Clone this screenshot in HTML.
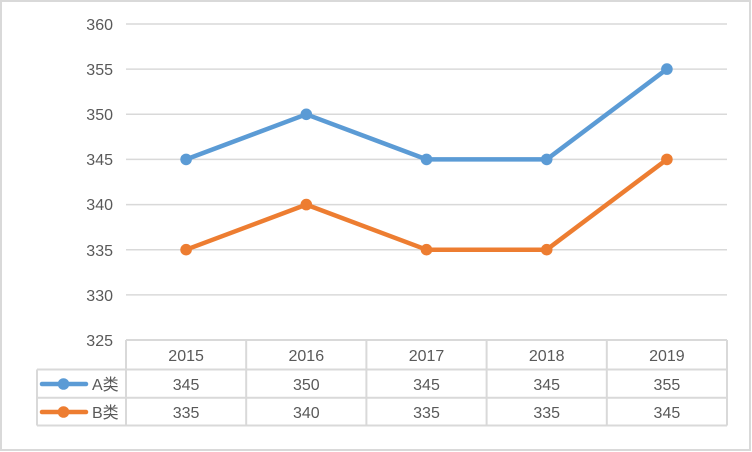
<!DOCTYPE html>
<html><head><meta charset="utf-8"><style>
html,body{margin:0;padding:0;background:#fff;}
svg{display:block;}
text{font-family:"Liberation Sans","Noto Sans CJK SC",sans-serif;font-size:16px;fill:#595959;}
</style></head><body>
<svg width="752" height="452" viewBox="0 0 752 452" xmlns="http://www.w3.org/2000/svg">
<rect x="1" y="1" width="749" height="449" fill="#fff" stroke="#d9d9d9" stroke-width="2"/>
<g stroke="#d9d9d9" stroke-width="1.5">
<line x1="126" y1="24" x2="727" y2="24"/>
<line x1="126" y1="69.1" x2="727" y2="69.1"/>
<line x1="126" y1="114.3" x2="727" y2="114.3"/>
<line x1="126" y1="159.4" x2="727" y2="159.4"/>
<line x1="126" y1="204.6" x2="727" y2="204.6"/>
<line x1="126" y1="249.7" x2="727" y2="249.7"/>
<line x1="126" y1="294.9" x2="727" y2="294.9"/>
</g>
<g stroke="#d9d9d9" stroke-width="2" fill="none">
<line x1="126" y1="340" x2="727" y2="340"/>
<line x1="37" y1="369.5" x2="727" y2="369.5"/>
<line x1="37" y1="397.7" x2="727" y2="397.7"/>
<line x1="37" y1="425.5" x2="727" y2="425.5"/>
<line x1="37" y1="369.5" x2="37" y2="425.5"/>
<line x1="126" y1="340" x2="126" y2="425.5"/>
<line x1="246.2" y1="340" x2="246.2" y2="425.5"/>
<line x1="366.4" y1="340" x2="366.4" y2="425.5"/>
<line x1="486.6" y1="340" x2="486.6" y2="425.5"/>
<line x1="606.8" y1="340" x2="606.8" y2="425.5"/>
<line x1="727" y1="340" x2="727" y2="425.5"/>
</g>
<g text-anchor="end">
<text x="113" y="30">360</text>
<text x="113" y="75">355</text>
<text x="113" y="120">350</text>
<text x="113" y="165">345</text>
<text x="113" y="210">340</text>
<text x="113" y="256">335</text>
<text x="113" y="301">330</text>
<text x="113" y="346">325</text>
</g>
<g text-anchor="middle">
<text x="186.1" y="361">2015</text>
<text x="306.3" y="361">2016</text>
<text x="426.5" y="361">2017</text>
<text x="546.7" y="361">2018</text>
<text x="666.9" y="361">2019</text>
<text x="186.1" y="390">345</text>
<text x="306.3" y="390">350</text>
<text x="426.5" y="390">345</text>
<text x="546.7" y="390">345</text>
<text x="666.9" y="390">355</text>
<text x="186.1" y="418">335</text>
<text x="306.3" y="418">340</text>
<text x="426.5" y="418">335</text>
<text x="546.7" y="418">335</text>
<text x="666.9" y="418">345</text>
</g>
<polyline points="186.1,159.4 306.3,114.3 426.5,159.4 546.7,159.4 666.9,69.1" fill="none" stroke="#5b9bd5" stroke-width="4.5" stroke-linejoin="round" stroke-linecap="round"/>
<polyline points="186.1,249.7 306.3,204.6 426.5,249.7 546.7,249.7 666.9,159.4" fill="none" stroke="#ed7d31" stroke-width="4.5" stroke-linejoin="round" stroke-linecap="round"/>
<g fill="#5b9bd5">
<circle cx="186.1" cy="159.4" r="5.8"/><circle cx="306.3" cy="114.3" r="5.8"/><circle cx="426.5" cy="159.4" r="5.8"/><circle cx="546.7" cy="159.4" r="5.8"/><circle cx="666.9" cy="69.1" r="5.8"/>
</g>
<g fill="#ed7d31">
<circle cx="186.1" cy="249.7" r="5.8"/><circle cx="306.3" cy="204.6" r="5.8"/><circle cx="426.5" cy="249.7" r="5.8"/><circle cx="546.7" cy="249.7" r="5.8"/><circle cx="666.9" cy="159.4" r="5.8"/>
</g>
<line x1="42" y1="384" x2="86" y2="384" stroke="#5b9bd5" stroke-width="4.5" stroke-linecap="round"/>
<circle cx="63.5" cy="384" r="5.8" fill="#5b9bd5"/>
<line x1="42" y1="412" x2="86" y2="412" stroke="#ed7d31" stroke-width="4.5" stroke-linecap="round"/>
<circle cx="63.5" cy="412" r="5.8" fill="#ed7d31"/>
<text x="92" y="390">A类</text>
<text x="92" y="418">B类</text>
</svg>
</body></html>
